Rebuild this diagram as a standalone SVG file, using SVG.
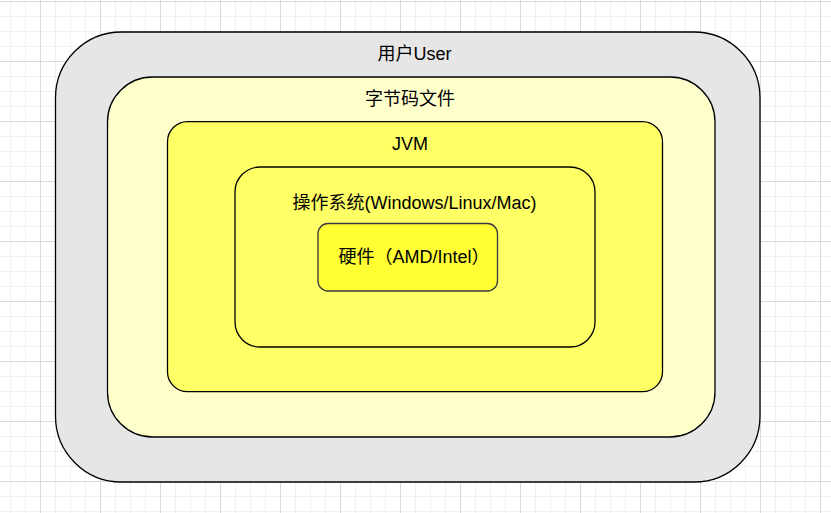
<svg xmlns="http://www.w3.org/2000/svg" width="831" height="513" viewBox="0 0 831 513">
  <defs>
    <pattern id="grid" x="40" y="1" width="60" height="60" patternUnits="userSpaceOnUse">
      <path d="M15.5 0V60M30.5 0V60M45.5 0V60M0 15.5H60M0 30.5H60M0 45.5H60" stroke="#f0f0f0" stroke-width="1" fill="none"/>
      <path d="M0.5 0V60M0 0.5H60" stroke="#dadada" stroke-width="1" fill="none"/>
    </pattern>
  </defs>
  <style>
    .box { stroke: #000; stroke-width: 1.3; }
    .lbl { font-family: "Liberation Sans", Arial, "Noto Sans CJK SC", sans-serif; font-size: 18px; fill: #000; text-anchor: middle; }
  </style>
  <rect x="0" y="0" width="831" height="513" fill="#ffffff"/>
  <rect x="0" y="0" width="831" height="513" fill="url(#grid)"/>

  <g id="user">
    <rect class="box" x="55.5" y="32" width="704.5" height="450" rx="66" ry="66" fill="#e6e6e6"/>
    <text class="lbl" x="414.5" y="59.5">用户User</text>
  </g>
  <g id="bytecode">
    <rect class="box" x="107.5" y="77" width="607.5" height="360" rx="45" ry="45" fill="#ffffcc"/>
    <text class="lbl" x="410" y="105">字节码文件</text>
  </g>
  <g id="jvm">
    <rect class="box" x="167.5" y="121.7" width="495" height="270" rx="20" ry="20" fill="#ffff66"/>
    <text class="lbl" x="410" y="149.5">JVM</text>
  </g>
  <g id="os">
    <rect class="box" x="235" y="167" width="360" height="180" rx="25" ry="25" fill="#ffff66"/>
    <text class="lbl" x="414.5" y="208.5">操作系统(Windows/Linux/Mac)</text>
  </g>
  <g id="hardware">
    <rect x="318" y="223.5" width="179.5" height="67.5" rx="10" ry="10" fill="#ffff33" stroke="#36393d" stroke-width="1.3"/>
    <text class="lbl" x="414" y="262.5">硬件（AMD/Intel）</text>
  </g>
  <g id="connectors"/>
</svg>
